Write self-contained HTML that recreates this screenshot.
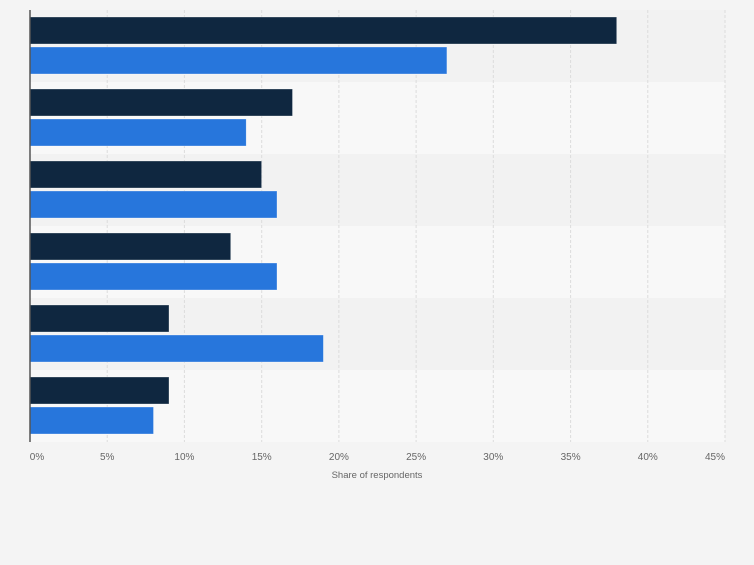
<!DOCTYPE html>
<html><head><style>body{margin:0;background:#f4f4f4}</style></head><body>
<svg width="754" height="560" xmlns="http://www.w3.org/2000/svg" font-family="Liberation Sans, sans-serif">
<rect width="754" height="560" fill="#f4f4f4"/>
<g>
<rect x="30" y="10" width="695" height="72" fill="#f2f2f2"/>
<rect x="30" y="82" width="695" height="72" fill="#f8f8f8"/>
<rect x="30" y="154" width="695" height="72" fill="#f2f2f2"/>
<rect x="30" y="226" width="695" height="72" fill="#f8f8f8"/>
<rect x="30" y="298" width="695" height="72" fill="#f2f2f2"/>
<rect x="30" y="370" width="695" height="72" fill="#f8f8f8"/>
</g>
<g stroke="#dcdcdc" stroke-dasharray="3,2">
<line x1="107.2" y1="10" x2="107.2" y2="442"/><line x1="184.4" y1="10" x2="184.4" y2="442"/>
<line x1="261.7" y1="10" x2="261.7" y2="442"/><line x1="338.9" y1="10" x2="338.9" y2="442"/>
<line x1="416.1" y1="10" x2="416.1" y2="442"/><line x1="493.3" y1="10" x2="493.3" y2="442"/>
<line x1="570.6" y1="10" x2="570.6" y2="442"/><line x1="647.8" y1="10" x2="647.8" y2="442"/>
<line x1="725" y1="10" x2="725" y2="442"/>
</g>
<g stroke="#fff" stroke-width="0.6" stroke-opacity="0.5">
<rect x="30" y="17" width="586.7" height="27" fill="#0f2740"/>
<rect x="30" y="47" width="416.9" height="27" fill="#2776dc"/>
<rect x="30" y="89" width="262.5" height="27" fill="#0f2740"/>
<rect x="30" y="119" width="216.2" height="27" fill="#2776dc"/>
<rect x="30" y="161" width="231.6" height="27" fill="#0f2740"/>
<rect x="30" y="191" width="247" height="27" fill="#2776dc"/>
<rect x="30" y="233" width="200.7" height="27" fill="#0f2740"/>
<rect x="30" y="263" width="247" height="27" fill="#2776dc"/>
<rect x="30" y="305" width="139" height="27" fill="#0f2740"/>
<rect x="30" y="335" width="293.4" height="27" fill="#2776dc"/>
<rect x="30" y="377" width="139" height="27" fill="#0f2740"/>
<rect x="30" y="407" width="123.5" height="27" fill="#2776dc"/>
</g>
<line x1="30" y1="10" x2="30" y2="442" stroke="#555" stroke-width="1.5"/>
<g font-size="10" fill="#666" text-anchor="middle">
<text x="37" y="460">0%</text><text x="107.2" y="460">5%</text><text x="184.4" y="460">10%</text>
<text x="261.7" y="460">15%</text><text x="338.9" y="460">20%</text><text x="416.1" y="460">25%</text>
<text x="493.3" y="460">30%</text><text x="570.6" y="460">35%</text><text x="647.8" y="460">40%</text>
<text x="715" y="460">45%</text>
<text x="377" y="478" font-size="9.5">Share of respondents</text>
</g>
</svg>
</body></html>
